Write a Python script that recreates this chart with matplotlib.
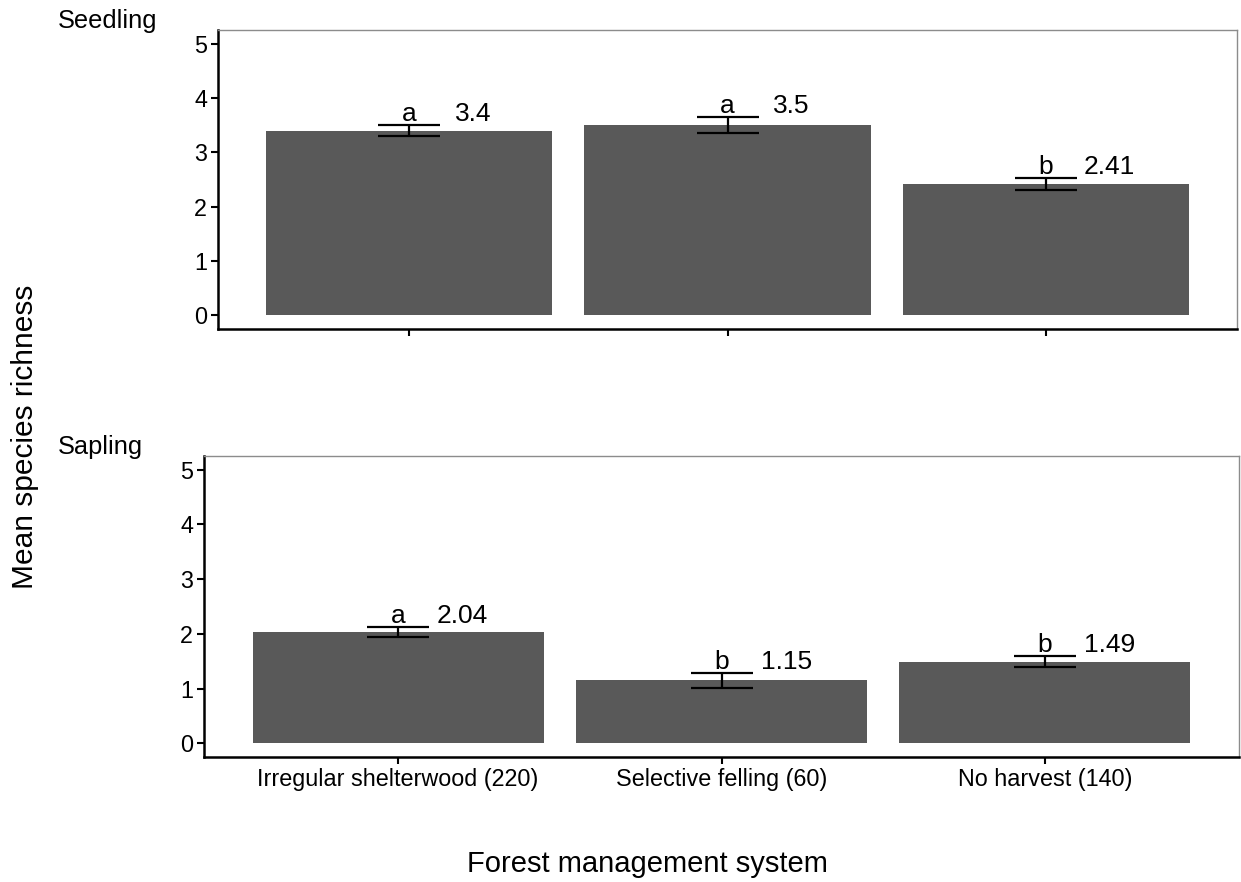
import numpy as np
import matplotlib.pyplot as plt

plt.rcParams['font.family'] = ['Liberation Sans', 'DejaVu Sans']

# data
systems = ['Irregular shelterwood (220)', 'Selective felling (60)', 'No harvest (140)']
seedling_mean = [3.40, 3.50, 2.41]
seedling_se = [0.10, 0.15, 0.11]
seedling_grp = ['a', 'a', 'b']
sapling_mean = [2.04, 1.15, 1.49]
sapling_se = [0.09, 0.135, 0.10]
sapling_grp = ['a', 'b', 'b']

W, H = 1241, 882
fig = plt.figure(figsize=(W / 100, H / 100), dpi=100)


def px_axes(l, t, r, b):
    return fig.add_axes([l / W, 1 - b / H, (r - l) / W, (b - t) / H])


def panel(ax, means, ses, grps, show_labels):
    x = np.arange(1, len(means) + 1)
    ax.bar(x, means, width=0.9, color='#595959', zorder=1)
    ax.errorbar(x, means, yerr=ses, fmt='none', ecolor='black', elinewidth=1.6,
                capsize=22.5, capthick=1.6, zorder=2)
    for xi, m, s, g in zip(x, means, ses, grps):
        top = m + s
        ax.annotate(g, (xi, top), xytext=(0, 3), textcoords='offset points',
                    ha='center', va='baseline', fontsize=19)
        ax.annotate(f'{m:g}', (xi + 0.2, top), xytext=(0, 3), textcoords='offset points',
                    ha='center', va='baseline', fontsize=19)
    ax.set_xlim(0.4, 3.6)
    ax.set_ylim(-0.25, 5.25)
    ax.set_yticks([0, 1, 2, 3, 4, 5])
    ax.set_xticks(x)
    if show_labels:
        ax.set_xticklabels(systems)
    else:
        ax.set_xticklabels([])
    for side in ['top', 'right']:
        ax.spines[side].set_color('#8c8c8c')
        ax.spines[side].set_linewidth(1.0)
    for side in ['left', 'bottom']:
        ax.spines[side].set_color('black')
        ax.spines[side].set_linewidth(1.8)
    ax.tick_params(axis='both', length=5, width=1.5, color='black', labelsize=16.8, pad=3)


ax1 = px_axes(218, 30, 1237, 329)
panel(ax1, seedling_mean, seedling_se, seedling_grp, False)
ax2 = px_axes(204, 456, 1239, 757)
panel(ax2, sapling_mean, sapling_se, sapling_grp, True)

fig.text(58 / W, 1 - 21 / H, 'Seedling', fontsize=18.3, ha='left', va='center')
fig.text(58 / W, 1 - 447 / H, 'Sapling', fontsize=18.3, ha='left', va='center')
fig.text(647 / W, 1 - 864 / H, 'Forest management system', fontsize=21, ha='center', va='center')
fig.text(25 / W, 1 - 437 / H, 'Mean species richness', fontsize=21.5, ha='center', va='center',
         rotation=90)

fig.savefig('out.png', dpi=100)
